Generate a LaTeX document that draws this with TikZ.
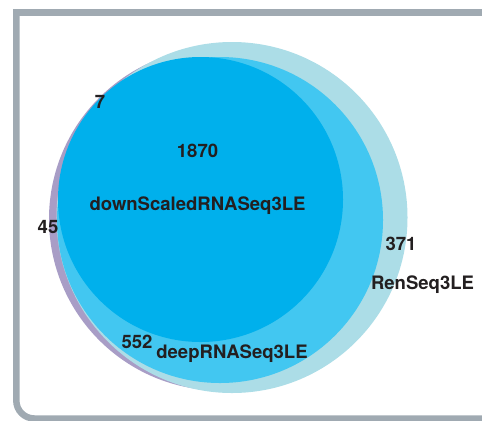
\documentclass[tikz,border=0pt]{standalone}
\usepackage{fontspec}
\setmainfont{TeX Gyre Heros}
\usepackage{tikz}
\usetikzlibrary{positioning}
\definecolor{frameGray}{RGB}{160,170,178}
\definecolor{renLight}{RGB}{172,221,231}
\definecolor{deepMid}{RGB}{66,199,241}
\definecolor{downDark}{RGB}{0,176,236}
\definecolor{otherPurple}{RGB}{168,157,198}
\definecolor{labelInk}{RGB}{35,31,32}

\begin{document}
\begin{tikzpicture}[
  x=1bp, y=-1bp,
  frame/.style={draw=frameGray, line width=6.5bp},
  count/.style={font=\fontsize{18.6}{20}\selectfont\bfseries, text=labelInk,
                inner sep=0pt, anchor=base},
  setname/.style={count},
]
\useasboundingbox (0,0) rectangle (482,420);
\draw[frame] (12.8,12.7) -- (490,12.7);
\draw[frame, rounded corners=18bp] (16.3,9.5) -- (16.3,418.5) -- (490,418.5);
\fill[otherPurple] (220.5,219) circle[radius=171.5bp];
\fill[renLight]    (232,217.5) circle[radius=175.5bp];
\fill[deepMid]     (220,220) circle[radius=163bp];
\fill[downDark]    (200.5,199.5) circle[radius=142.5bp];
\node[count]   (onlyOther) at (100,108)   {7};
\node[count]   (nDown)     at (197.5,157) {1870};
\node[setname] (down)      at (197.5,210) {downScaledRNASeq3LE};
\node[count]   (nOther)    at (48,233)    {45};
\node[count]   (nRen)      at (401,250)   {371};
\node[setname] (ren)       at (422.5,289) {RenSeq3LE};
\node[count]   (nDeep)     at (137,348)   {552};
\node[setname] (deep)      at (232,358)   {deepRNASeq3LE};
\end{tikzpicture}
\end{document}
